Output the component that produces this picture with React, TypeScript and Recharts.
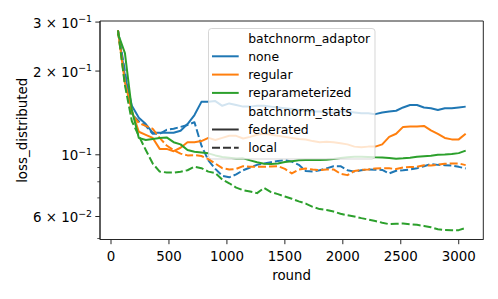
import React from 'react';
import { LineChart, Line, XAxis, YAxis, Legend, ReferenceArea } from 'recharts';

const FONT = 'DejaVu Sans, sans-serif';

const rounds = [60, 120, 180, 240, 300, 360, 420, 480, 540, 600, 660, 720, 780, 840, 900, 960, 1020, 1080, 1140, 1200, 1260, 1320, 1380, 1440, 1500, 1560, 1620, 1680, 1740, 1800, 1860, 1920, 1980, 2040, 2100, 2160, 2220, 2280, 2340, 2400, 2460, 2520, 2580, 2640, 2700, 2760, 2820, 2880, 2940, 3000, 3060];

const noneFederated = [0.280, 0.192, 0.150, 0.136, 0.129, 0.120, 0.120, 0.120, 0.120, 0.122, 0.129, 0.139, 0.155, 0.155, 0.156, 0.150, 0.153, 0.151, 0.149, 0.149, 0.150, 0.150, 0.149, 0.148, 0.147, 0.146, 0.145, 0.144, 0.143, 0.143, 0.142, 0.142, 0.143, 0.143, 0.142, 0.141, 0.141, 0.140, 0.142, 0.143, 0.144, 0.148, 0.151, 0.151, 0.148, 0.147, 0.145, 0.147, 0.147, 0.148, 0.149];
const noneLocal = [0.280, 0.200, 0.140, 0.132, 0.127, 0.119, 0.119, 0.123, 0.124, 0.126, 0.128, 0.131, 0.108, 0.0955, 0.089, 0.084, 0.083, 0.085, 0.088, 0.090, 0.092, 0.093, 0.094, 0.095, 0.0957, 0.0945, 0.092, 0.0875, 0.087, 0.088, 0.0894, 0.091, 0.091, 0.088, 0.087, 0.088, 0.0886, 0.0884, 0.0882, 0.0857, 0.0876, 0.088, 0.0886, 0.0895, 0.091, 0.0926, 0.092, 0.0918, 0.0915, 0.0905, 0.0893];
const regularFederated = [0.280, 0.182, 0.144, 0.121, 0.118, 0.115, 0.105, 0.105, 0.103, 0.106, 0.111, 0.111, 0.112, 0.115, 0.113, 0.115, 0.117, 0.117, 0.1145, 0.116, 0.118, 0.119, 0.118, 0.117, 0.116, 0.115, 0.114, 0.1135, 0.112, 0.111, 0.1115, 0.111, 0.110, 0.109, 0.107, 0.1065, 0.107, 0.107, 0.109, 0.116, 0.119, 0.126, 0.1265, 0.1265, 0.127, 0.1225, 0.119, 0.115, 0.1136, 0.1136, 0.119];
const regularLocal = [0.280, 0.180, 0.140, 0.130, 0.127, 0.124, 0.115, 0.108, 0.104, 0.101, 0.0995, 0.0997, 0.099, 0.0965, 0.093, 0.0895, 0.0885, 0.089, 0.091, 0.0906, 0.0906, 0.0906, 0.0908, 0.091, 0.089, 0.0857, 0.0885, 0.0893, 0.0885, 0.088, 0.0886, 0.0886, 0.0855, 0.0845, 0.0875, 0.0883, 0.0886, 0.0893, 0.0894, 0.0894, 0.0889, 0.0900, 0.0903, 0.0906, 0.0917, 0.0915, 0.0922, 0.0928, 0.0931, 0.0931, 0.0918];
const reparamFederated = [0.273, 0.232, 0.145, 0.115, 0.113, 0.114, 0.115, 0.1155, 0.111, 0.109, 0.104, 0.1025, 0.102, 0.1012, 0.0995, 0.0982, 0.0976, 0.097, 0.0971, 0.0955, 0.094, 0.0928, 0.0927, 0.093, 0.0942, 0.0948, 0.0955, 0.0957, 0.0958, 0.0957, 0.096, 0.0965, 0.0973, 0.098, 0.0984, 0.0984, 0.0982, 0.0979, 0.0978, 0.0974, 0.0968, 0.0971, 0.0976, 0.0984, 0.0988, 0.0993, 0.1, 0.1002, 0.1006, 0.1014, 0.1035];
const reparamLocal = [0.280, 0.178, 0.132, 0.117, 0.104, 0.093, 0.087, 0.0864, 0.0863, 0.0869, 0.088, 0.0906, 0.0895, 0.087, 0.086, 0.0815, 0.079, 0.0762, 0.0746, 0.0738, 0.0728, 0.0760, 0.0734, 0.0722, 0.0708, 0.0695, 0.0680, 0.0668, 0.0650, 0.0638, 0.0633, 0.0625, 0.0614, 0.0606, 0.0600, 0.0592, 0.0585, 0.0578, 0.0570, 0.0563, 0.0565, 0.0566, 0.0563, 0.0560, 0.0555, 0.0549, 0.0540, 0.0537, 0.0536, 0.0536, 0.0546];

const xTicks = [0, 500, 1000, 1500, 2000, 2500, 3000];
const yTicks = [0.05, 0.06, 0.07, 0.08, 0.09, 0.1, 0.2, 0.3];
const yMajorTicks = [0.06, 0.1, 0.2, 0.3];
const yMajorMantissa = ['6 × 10', '10', '2 × 10', '3 × 10'];
const yMajorExponent = ['−2', '−1', '−1', '−1'];

const legendLabels = ['batchnorm_adaptor', 'none', 'regular', 'reparameterized', 'batchnorm_stats', 'federated', 'local'];
const legendColors = [null, '#1f77b4', '#ff7f0e', '#2ca02c', null, '#333333', '#333333'];
const legendDashed = [false, false, false, false, false, false, true];

const data = rounds.map((r, i) => ({
  round: r,
  noneFed: noneFederated[i],
  noneLoc: noneLocal[i],
  regFed: regularFederated[i],
  regLoc: regularLocal[i],
  repFed: reparamFederated[i],
  repLoc: reparamLocal[i],
}));

const xDomain: [number, number] = [-95, 3212];
const yDomain: [number, number] = [0.0496, 0.3027];
const AX = '#262626';
const DASH = '8 3';

const YTick = (props: any) => {
  const { x, y, payload } = props;
  const v = payload.value;
  const idx = yMajorTicks.findIndex((t) => Math.abs(t - v) < 1e-9);
  const major = idx >= 0;
  return (
    <g>
      <line x1={x - (major ? 4.7 : 2.7)} x2={x} y1={y} y2={y} stroke={AX} strokeWidth={major ? 1 : 0.8} />
      {major && (
        <text x={x - 8} y={y + 5.5} textAnchor="end" fontSize={13.4} fontFamily={FONT} fill="#000">
          <tspan>{yMajorMantissa[idx]}</tspan>
          <tspan dy={-5.5} fontSize={9.4}>{yMajorExponent[idx]}</tspan>
        </text>
      )}
    </g>
  );
};

const LegendBox = () => (
  <svg width={168} height={132} style={{ display: 'block', overflow: 'visible' }}>
    <rect x={0.5} y={0.5} width={166.5} height={130.5} rx={3} fill="#ffffff" fillOpacity={0.8} stroke="#cccccc" strokeOpacity={0.8} strokeWidth={1} />
    {legendLabels.map((lab, i) => {
      const cy = 10 + 18.3 * i;
      const c = legendColors[i];
      return (
        <g key={lab}>
          {c && (
            <line x1={4} x2={30.7} y1={cy} y2={cy} stroke={c} strokeWidth={2} strokeDasharray={legendDashed[i] ? DASH : undefined} />
          )}
          <text x={40.2} y={cy} dominantBaseline="central" fontSize={12.4} fontFamily={FONT} fill="#000">{lab}</text>
        </g>
      );
    })}
  </svg>
);

export default function App() {
  return (
    <div style={{ position: 'absolute', left: 0, top: 0 }}>
      <LineChart width={498} height={299} data={data} margin={{ top: 21, right: 14.7, bottom: 0, left: 0 }}>
        <XAxis
          dataKey="round"
          type="number"
          domain={xDomain}
          ticks={xTicks}
          allowDataOverflow
          height={59.5}
          tickSize={4.7}
          tickMargin={7}
          axisLine={{ stroke: AX, strokeWidth: 1 }}
          tickLine={{ stroke: AX, strokeWidth: 1 }}
          tick={{ fill: '#000', fontSize: 13.4, fontFamily: FONT }}
          label={{ value: 'round', position: 'insideBottom', offset: 19, style: { fill: '#000', fontSize: 13.4, fontFamily: FONT } }}
        />
        <YAxis
          type="number"
          scale="log"
          domain={yDomain}
          ticks={yTicks}
          allowDataOverflow
          width={100}
          tickSize={0}
          tickMargin={0}
          tickLine={false}
          axisLine={{ stroke: AX, strokeWidth: 1 }}
          tick={<YTick />}
          interval={0}
          label={{ value: 'loss_distributed', angle: -90, position: 'insideLeft', offset: 22, style: { textAnchor: 'middle', fill: '#000', fontSize: 13.4, fontFamily: FONT } }}
        />
        <ReferenceArea x1={xDomain[0]} x2={xDomain[1]} y1={yDomain[0]} y2={yDomain[1]} fill="none" fillOpacity={0} stroke={AX} strokeWidth={1} ifOverflow="visible" />
        <Line type="linear" dataKey="noneFed" stroke="#1f77b4" strokeWidth={2} dot={false} strokeLinejoin="round" isAnimationActive={false} />
        <Line type="linear" dataKey="noneLoc" stroke="#1f77b4" strokeWidth={2} strokeDasharray={DASH} dot={false} strokeLinejoin="round" isAnimationActive={false} />
        <Line type="linear" dataKey="regFed" stroke="#ff7f0e" strokeWidth={2} dot={false} strokeLinejoin="round" isAnimationActive={false} />
        <Line type="linear" dataKey="regLoc" stroke="#ff7f0e" strokeWidth={2} strokeDasharray={DASH} dot={false} strokeLinejoin="round" isAnimationActive={false} />
        <Line type="linear" dataKey="repFed" stroke="#2ca02c" strokeWidth={2} dot={false} strokeLinejoin="round" isAnimationActive={false} />
        <Line type="linear" dataKey="repLoc" stroke="#2ca02c" strokeWidth={2} strokeDasharray={DASH} dot={false} strokeLinejoin="round" isAnimationActive={false} />
        <Legend
          layout="horizontal"
          verticalAlign="middle"
          align="center"
          content={<LegendBox />}
          wrapperStyle={{ position: 'absolute', left: 208.3, top: 27.7, width: 168, height: 132, margin: 0, padding: 0 }}
        />
      </LineChart>
    </div>
  );
}
